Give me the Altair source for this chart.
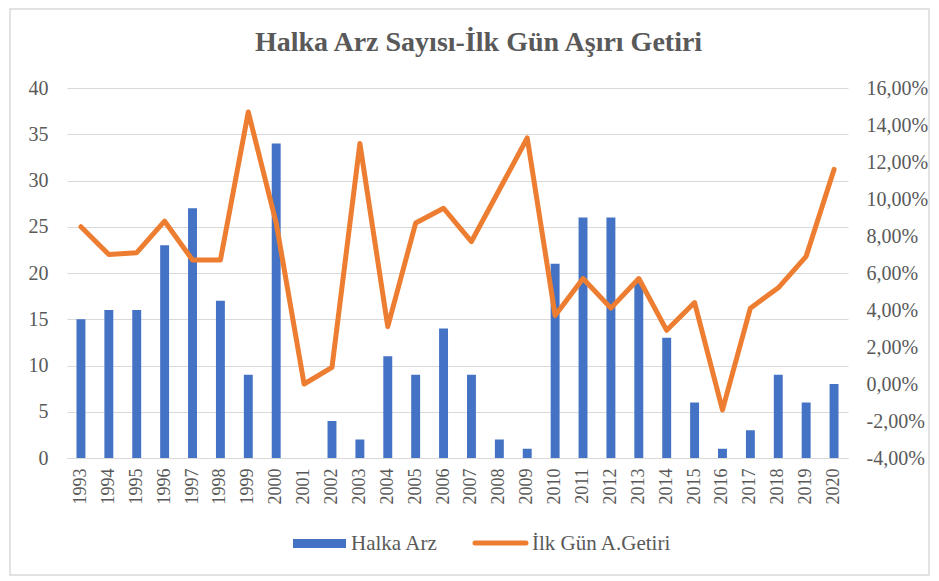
import altair as alt
import pandas as pd

years = [str(y) for y in range(1993, 2021)]
halka_arz = [15, 16, 16, 23, 27, 17, 9, 34, 0, 4, 2, 11, 9, 14, 9, 2, 1, 21, 26, 26, 19, 13, 6, 1, 3, 9, 6, 8]
ilk_gun_getiri = [8.5, 7.0, 7.1, 8.8, 6.7, 6.7, 14.7, 8.7, 0.0, 0.9, 13.0, 3.1, 8.7, 9.5, 7.7, 10.5,
                  13.3, 3.7, 5.7, 4.1, 5.7, 2.9, 4.4, -1.4, 4.1, 5.2, 6.9, 11.6]
left_ticks = [0, 5, 10, 15, 20, 25, 30, 35, 40]
right_ticks = [-4, -2, 0, 2, 4, 6, 8, 10, 12, 14, 16]
title_text = "Halka Arz Sayısı-İlk Gün Aşırı Getiri"
legend_labels = ["Halka Arz", "İlk Gün A.Getiri"]

BLUE = "#4472C4"
ORANGE = "#ED7D31"
GRAY = "#595959"
GRID = "#d9d9d9"
FONT = "'Liberation Serif', 'Times New Roman', serif"

df = pd.DataFrame({"year": years, "arz": halka_arz, "getiri": ilk_gun_getiri})

base = alt.Chart(df).encode(
    x=alt.X("year:O", sort=years,
            scale=alt.Scale(paddingInner=0.68, paddingOuter=0.34),
            axis=alt.Axis(title=None, labelAngle=270, ticks=False, domain=True,
                          domainColor=GRID, domainWidth=1, labelPadding=10,
                          labelFont=FONT, labelFontSize=18, labelColor=GRAY))
)

bars = base.mark_bar(color=BLUE).encode(
    y=alt.Y("arz:Q", scale=alt.Scale(domain=[0, 40], nice=False),
            axis=alt.Axis(title=None, values=left_ticks, domain=False, ticks=False,
                          grid=True, gridColor=GRID, gridWidth=1.2, labelPadding=19,
                          labelFont=FONT, labelFontSize=20, labelColor=GRAY))
)

label_expr = "replace(replace(format(datum.value, '.2f'), '.', ','), '\u2212', '-') + '%'"
line = base.mark_line(color=ORANGE, strokeWidth=5, strokeCap="round", strokeJoin="round").encode(
    y=alt.Y("getiri:Q", scale=alt.Scale(domain=[-4, 16], nice=False),
            axis=alt.Axis(title=None, orient="right", values=right_ticks, labelExpr=label_expr,
                          domain=False, ticks=False, grid=False, labelPadding=18,
                          labelFont=FONT, labelFontSize=20, labelColor=GRAY))
)

one = alt.Data(values=[{"k": 1}])
border = alt.Chart(one).mark_rect(fill="white", fillOpacity=0, stroke=GRID, strokeWidth=1.5).encode(
    x=alt.value(-57), x2=alt.value(862), y=alt.value(-79), y2=alt.value(487)
)
leg_bar = alt.Chart(one).mark_rect(color=BLUE).encode(
    x=alt.value(226), x2=alt.value(279), y=alt.value(451), y2=alt.value(460)
)
leg_bar_text = alt.Chart(one).mark_text(align="left", baseline="alphabetic", font=FONT,
                                         fontSize=21, color=GRAY).encode(
    x=alt.value(284), y=alt.value(462), text=alt.value(legend_labels[0])
)
leg_line = alt.Chart(one).mark_rule(color=ORANGE, strokeWidth=5, strokeCap="round").encode(
    x=alt.value(408), x2=alt.value(459), y=alt.value(455)
)
leg_line_text = alt.Chart(one).mark_text(align="left", baseline="alphabetic", font=FONT,
                                          fontSize=21, color=GRAY).encode(
    x=alt.value(465), y=alt.value(462), text=alt.value(legend_labels[1])
)

chart = alt.layer(border, bars, line, leg_bar, leg_bar_text, leg_line, leg_line_text).resolve_scale(
    y="independent"
).properties(
    width=781, height=370,
    title=alt.TitleParams(title_text, font=FONT, fontSize=28, fontWeight="bold", color=GRAY,
                          anchor="middle", dx=21, offset=-49),
    autosize=alt.AutoSizeParams(type="none"),
    padding={"left": 59, "top": 80, "right": 83, "bottom": 120},
).configure_view(strokeWidth=0)

chart.save("out.html", embed_options={"renderer": "svg", "actions": False})
